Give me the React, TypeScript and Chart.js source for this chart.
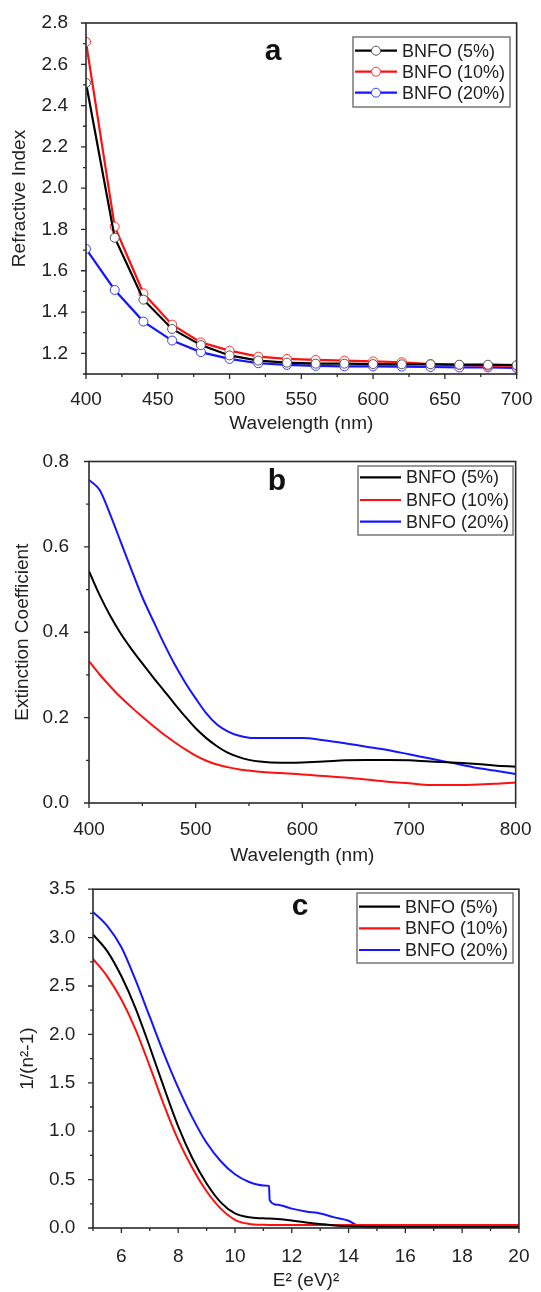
import React, { useEffect, useRef } from 'react';
import { Chart, registerables } from 'chart.js';

Chart.register(...registerables);

const FONT = "'Liberation Sans', Arial, sans-serif";
const TEXT = '#222';
const C_BLACK = '#000000';
const C_RED = '#ff1010';
const C_BLUE = '#1515ff';

// ---------- Panel a: refractive index ----------
const wavelengthA = [400, 420, 440, 460, 480, 500, 520, 540, 560, 580, 600, 620, 640, 660, 680, 700];
const nBNFO5 = [2.51, 1.76, 1.46, 1.318, 1.24, 1.19, 1.165, 1.155, 1.15, 1.15, 1.148, 1.147, 1.147, 1.145, 1.145, 1.143];
const nBNFO10 = [2.708, 1.814, 1.491, 1.339, 1.253, 1.213, 1.184, 1.173, 1.168, 1.165, 1.161, 1.157, 1.148, 1.144, 1.14, 1.14];
const nBNFO20 = [1.706, 1.507, 1.354, 1.262, 1.206, 1.173, 1.152, 1.144, 1.139, 1.137, 1.137, 1.136, 1.134, 1.132, 1.132, 1.129];
const xTicksA = [400, 450, 500, 550, 600, 650, 700];
const yTicksA = [1.2, 1.4, 1.6, 1.8, 2.0, 2.2, 2.4, 2.6, 2.8];

// ---------- Panel b: extinction coefficient ----------
const wavelengthB = [400, 410, 420, 430, 440, 450, 460, 470, 480, 490, 500, 510, 520, 530, 540, 550, 560, 580, 600, 620, 640, 660, 680, 700, 720, 740, 760, 780, 800];
const kBNFO5 = [0.543, 0.487, 0.438, 0.396, 0.36, 0.327, 0.295, 0.264, 0.233, 0.203, 0.175, 0.152, 0.133, 0.118, 0.108, 0.101, 0.097, 0.094, 0.095, 0.097, 0.1, 0.101, 0.101, 0.1, 0.097, 0.095, 0.092, 0.088, 0.085];
const kBNFO10 = [0.332, 0.301, 0.273, 0.247, 0.224, 0.202, 0.181, 0.161, 0.143, 0.126, 0.111, 0.099, 0.09, 0.084, 0.079, 0.076, 0.073, 0.07, 0.067, 0.063, 0.06, 0.055, 0.05, 0.046, 0.042, 0.042, 0.043, 0.045, 0.048];
const kBNFO20 = [0.757, 0.733, 0.675, 0.61, 0.545, 0.482, 0.428, 0.375, 0.326, 0.283, 0.245, 0.21, 0.184, 0.168, 0.158, 0.153, 0.152, 0.152, 0.152, 0.147, 0.14, 0.132, 0.124, 0.114, 0.104, 0.094, 0.084, 0.076, 0.068];
const xTicksB = [400, 500, 600, 700, 800];
const yTicksB = [0.0, 0.2, 0.4, 0.6, 0.8];

// ---------- Panel c: 1/(n^2-1) vs E^2 ----------
const e2BNFO5 = [5, 5.5, 6, 6.5, 7, 7.5, 8, 8.5, 9, 9.5, 10, 10.5, 11, 11.5, 12, 12.5, 13, 13.5, 14, 15, 16, 18, 20];
const invBNFO5 = [3.032, 2.86, 2.6, 2.27, 1.87, 1.45, 1.05, 0.72, 0.46, 0.265, 0.15, 0.11, 0.1, 0.092, 0.077, 0.058, 0.042, 0.027, 0.018, 0.012, 0.01, 0.01, 0.01];
const e2BNFO10 = [5, 5.5, 6, 6.5, 7, 7.5, 8, 8.5, 9, 9.5, 10, 10.5, 11, 12, 14, 16, 18, 20];
const invBNFO10 = [2.781, 2.6, 2.36, 2.05, 1.67, 1.27, 0.91, 0.62, 0.38, 0.2, 0.085, 0.042, 0.033, 0.03, 0.03, 0.03, 0.03, 0.03];
const e2BNFO20 = [5, 5.5, 6, 6.5, 7, 7.5, 8, 8.5, 9, 9.5, 10, 10.5, 11, 11.2, 11.22, 11.5, 12, 12.5, 13, 13.5, 14, 14.3, 15, 16, 18, 20];
const invBNFO20 = [3.266, 3.12, 2.9, 2.56, 2.18, 1.8, 1.45, 1.14, 0.88, 0.69, 0.555, 0.475, 0.44, 0.435, 0.29, 0.24, 0.2, 0.17, 0.15, 0.11, 0.075, 0.03, 0.012, 0.008, 0.008, 0.008];
const xTicksC = [6, 8, 10, 12, 14, 16, 18, 20];
const yTicksC = [0.0, 0.5, 1.0, 1.5, 2.0, 2.5, 3.0, 3.5];

const seriesLabels = ['BNFO (5%)', 'BNFO (10%)', 'BNFO (20%)'];

const pairs = (xs: number[], ys: number[]) => xs.map((x, i) => ({ x, y: ys[i] }));

const framePlugin = {
  id: 'frame',
  afterDraw(chart: any, _args: any, opts: any) {
    const { ctx, chartArea: a, scales } = chart;
    const xs = scales.x;
    const ys = scales.y;
    ctx.save();
    ctx.strokeStyle = '#2a2a2a';
    ctx.lineWidth = 1.6;
    ctx.strokeRect(a.left, a.top, a.right - a.left, a.bottom - a.top);
    ctx.lineWidth = 1.3;
    const majorX = xs.ticks.map((t: any) => t.value);
    const majorY = ys.ticks.map((t: any) => t.value);
    const near = (arr: number[], v: number) => arr.some((m) => Math.abs(m - v) < 1e-6);
    ctx.beginPath();
    majorX.forEach((v: number) => {
      const p = xs.getPixelForValue(v);
      ctx.moveTo(p, a.bottom);
      ctx.lineTo(p, a.bottom + 5);
    });
    majorY.forEach((v: number) => {
      const p = ys.getPixelForValue(v);
      ctx.moveTo(a.left, p);
      ctx.lineTo(a.left - 5, p);
    });
    for (let v = opts.minorX0; v <= xs.max + 1e-6; v += opts.minorX) {
      if (near(majorX, v)) continue;
      const p = xs.getPixelForValue(v);
      ctx.moveTo(p, a.bottom);
      ctx.lineTo(p, a.bottom + 3);
    }
    for (let v = opts.minorY0; v <= ys.max + 1e-6; v += opts.minorY) {
      if (near(majorY, v)) continue;
      const p = ys.getPixelForValue(v);
      ctx.moveTo(a.left, p);
      ctx.lineTo(a.left - 3, p);
    }
    ctx.stroke();

    ctx.fillStyle = '#111';
    ctx.font = `bold 30px ${FONT}`;
    ctx.textAlign = 'center';
    ctx.textBaseline = 'middle';
    ctx.fillText(opts.letter, opts.letterX, opts.letterY);

    const lg = opts.legend;
    ctx.strokeStyle = '#777';
    ctx.lineWidth = 1.5;
    ctx.strokeRect(lg.x, lg.y, lg.w, lg.h);
    ctx.font = `18px ${FONT}`;
    ctx.textAlign = 'left';
    chart.data.datasets.forEach((ds: any, i: number) => {
      const y = lg.rows[i];
      ctx.strokeStyle = ds.borderColor;
      ctx.lineWidth = 2.2;
      ctx.beginPath();
      ctx.moveTo(lg.x0, y);
      ctx.lineTo(lg.x1, y);
      ctx.stroke();
      if (lg.marker) {
        ctx.beginPath();
        ctx.arc((lg.x0 + lg.x1) / 2, y, 4.5, 0, Math.PI * 2);
        ctx.fillStyle = '#fff';
        ctx.fill();
        ctx.lineWidth = 1;
        ctx.strokeStyle = ds.pointBorderColor;
        ctx.stroke();
      }
      ctx.fillStyle = TEXT;
      ctx.fillText(ds.label, lg.textX, y + 1);
    });
    ctx.restore();
  },
};

type PanelCfg = {
  height: number;
  padTop: number;
  padRight: number;
  yWidth: number;
  xHeight: number;
  xMin: number;
  xMax: number;
  yMin: number;
  yMax: number;
  xTicks: number[];
  yTicks: number[];
  yDecimals: number;
  xTitle: string;
  yTitle: string;
  xLabelPad: number;
  yLabelPad: number;
  xTitlePadBottom: number;
  yTitlePadTop: number;
  datasets: any[];
  frame: any;
};

function makeConfig(p: PanelCfg): any {
  const tickFont = { family: FONT, size: 19, lineHeight: 1 };
  const titleFont = { family: FONT, size: 19, lineHeight: 1.2 };
  return {
    type: 'line',
    data: { datasets: p.datasets },
    plugins: [framePlugin],
    options: {
      responsive: false,
      animation: false,
      events: [],
      layout: { padding: { top: p.padTop, right: p.padRight, bottom: 0, left: 0 } },
      plugins: {
        legend: { display: false },
        tooltip: { enabled: false },
        frame: p.frame,
      },
      scales: {
        x: {
          type: 'linear',
          min: p.xMin,
          max: p.xMax,
          afterBuildTicks: (s: any) => {
            s.ticks = p.xTicks.map((v) => ({ value: v }));
          },
          afterFit: (s: any) => {
            s.height = p.xHeight;
          },
          grid: { display: false },
          border: { display: false },
          ticks: {
            font: tickFont,
            color: TEXT,
            padding: p.xLabelPad,
            maxRotation: 0,
            autoSkip: false,
            callback: (v: any) => String(v),
          },
          title: {
            display: true,
            text: p.xTitle,
            font: titleFont,
            color: TEXT,
            padding: { top: 0, bottom: p.xTitlePadBottom },
          },
        },
        y: {
          type: 'linear',
          min: p.yMin,
          max: p.yMax,
          afterBuildTicks: (s: any) => {
            s.ticks = p.yTicks.map((v) => ({ value: v }));
          },
          afterFit: (s: any) => {
            s.width = p.yWidth;
          },
          grid: { display: false },
          border: { display: false },
          ticks: {
            font: tickFont,
            color: TEXT,
            padding: p.yLabelPad,
            autoSkip: false,
            callback: (v: any) => Number(v).toFixed(p.yDecimals),
          },
          title: {
            display: true,
            text: p.yTitle,
            font: titleFont,
            color: TEXT,
            padding: { top: p.yTitlePadTop, bottom: 0 },
          },
        },
      },
    },
  };
}

function lineDs(label: string, data: any[], color: string) {
  return {
    label,
    data,
    borderColor: color,
    backgroundColor: color,
    borderWidth: 2,
    pointRadius: 0,
    fill: false,
    clip: 0,
    cubicInterpolationMode: 'monotone',
  };
}

function markerDs(label: string, data: any[], color: string, markerColor: string) {
  return {
    label,
    data,
    borderColor: color,
    backgroundColor: color,
    borderWidth: 2.2,
    pointRadius: 4.5,
    pointBorderWidth: 1,
    pointBackgroundColor: '#ffffff',
    pointBorderColor: markerColor,
    fill: false,
    clip: 0,
    tension: 0,
  };
}

const panelA: PanelCfg = {
  height: 440,
  padTop: 23,
  padRight: 18,
  yWidth: 86,
  xHeight: 66,
  xMin: 400,
  xMax: 700,
  yMin: 1.1,
  yMax: 2.8,
  xTicks: xTicksA,
  yTicks: yTicksA,
  yDecimals: 1,
  xTitle: 'Wavelength (nm)',
  yTitle: 'Refractive Index',
  xLabelPad: 8.5,
  yLabelPad: 10,
  xTitlePadBottom: 4.6,
  yTitlePadTop: 8,
  datasets: [
    markerDs(seriesLabels[0], pairs(wavelengthA, nBNFO5), C_BLACK, '#555555'),
    markerDs(seriesLabels[1], pairs(wavelengthA, nBNFO10), C_RED, '#ff3030'),
    markerDs(seriesLabels[2], pairs(wavelengthA, nBNFO20), C_BLUE, '#3a3aff'),
  ],
  frame: {
    minorX0: 400,
    minorX: 25,
    minorY0: 1.1,
    minorY: 0.1,
    letter: 'a',
    letterX: 273,
    letterY: 52,
    legend: { x: 353, y: 37, w: 157, h: 70, rows: [50.7, 71.7, 92.7], x0: 355, x1: 397, textX: 402, marker: true },
  },
};

const panelB: PanelCfg = {
  height: 430,
  padTop: 10,
  padRight: 18,
  yWidth: 89,
  xHeight: 67,
  xMin: 400,
  xMax: 800,
  yMin: 0,
  yMax: 0.8,
  xTicks: xTicksB,
  yTicks: yTicksB,
  yDecimals: 1,
  xTitle: 'Wavelength (nm)',
  yTitle: 'Extinction Coefficient',
  xLabelPad: 9.5,
  yLabelPad: 12,
  xTitlePadBottom: 2.6,
  yTitlePadTop: 11.6,
  datasets: [
    lineDs(seriesLabels[0], pairs(wavelengthB, kBNFO5), C_BLACK),
    lineDs(seriesLabels[1], pairs(wavelengthB, kBNFO10), C_RED),
    lineDs(seriesLabels[2], pairs(wavelengthB, kBNFO20), C_BLUE),
  ],
  frame: {
    minorX0: 400,
    minorX: 50,
    minorY0: 0,
    minorY: 0.1,
    letter: 'b',
    letterX: 277,
    letterY: 42,
    legend: { x: 358, y: 26, w: 155, h: 69, rows: [37.3, 60, 81.7], x0: 360, x1: 401, textX: 406, marker: false },
  },
};

const panelC: PanelCfg = {
  height: 422,
  padTop: 11,
  padRight: 11,
  yWidth: 93,
  xHeight: 64,
  xMin: 5,
  xMax: 20,
  yMin: 0,
  yMax: 3.5,
  xTicks: xTicksC,
  yTicks: yTicksC,
  yDecimals: 1,
  xTitle: 'E² (eV)²',
  yTitle: '1/(n²-1)',
  xLabelPad: 11.5,
  yLabelPad: 9.7,
  xTitlePadBottom: 0,
  yTitlePadTop: 16.6,
  datasets: [
    lineDs(seriesLabels[0], pairs(e2BNFO5, invBNFO5), C_BLACK),
    lineDs(seriesLabels[1], pairs(e2BNFO10, invBNFO10), C_RED),
    lineDs(seriesLabels[2], pairs(e2BNFO20, invBNFO20), C_BLUE),
  ],
  frame: {
    minorX0: 5,
    minorX: 1,
    minorY0: 0,
    minorY: 0.25,
    letter: 'c',
    letterX: 300,
    letterY: 37,
    legend: { x: 357, y: 23, w: 156, h: 70, rows: [36.7, 58.3, 80], x0: 359, x1: 400, textX: 405, marker: false },
  },
};

function Panel({ cfg, top }: { cfg: PanelCfg; top: number }) {
  const ref = useRef<HTMLCanvasElement | null>(null);
  useEffect(() => {
    if (!ref.current) return;
    const chart = new Chart(ref.current, makeConfig(cfg));
    return () => chart.destroy();
  }, [cfg]);
  return (
    <canvas
      ref={ref}
      width={541}
      height={cfg.height}
      style={{ position: 'absolute', left: 0, top, width: 541, height: cfg.height, display: 'block' }}
    />
  );
}

export default function App() {
  return (
    <div style={{ position: 'absolute', left: 0, top: 0, width: 541, height: 1292, background: '#fff', overflow: 'hidden' }}>
      <Panel cfg={panelA} top={0} />
      <Panel cfg={panelB} top={440} />
      <Panel cfg={panelC} top={870} />
    </div>
  );
}
